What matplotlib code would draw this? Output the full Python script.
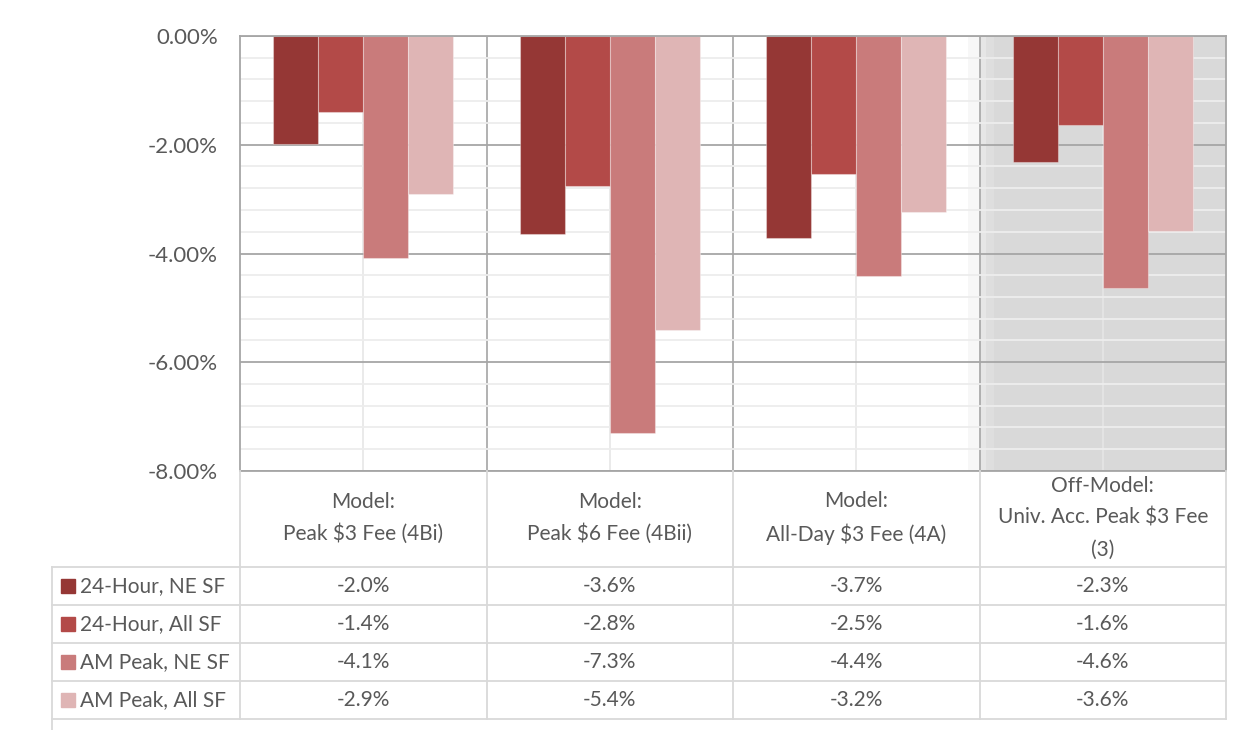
import numpy as np
import matplotlib
matplotlib.use("Agg")
import matplotlib.pyplot as plt
from matplotlib.patches import Rectangle
from matplotlib.ticker import FuncFormatter

plt.rcParams['font.family'] = ['Lato', 'DejaVu Sans']
plt.rcParams['axes.unicode_minus'] = False

# ---- data -------------------------------------------------------------
categories = [
    "Model:\nPeak $3 Fee (4Bi)",
    "Model:\nPeak $6 Fee (4Bii)",
    "Model:\nAll-Day $3 Fee (4A)",
    "Off-Model:\nUniv. Acc. Peak $3 Fee\n(3)",
]
series_names = ["24-Hour, NE SF", "24-Hour, All SF", "AM Peak, NE SF", "AM Peak, All SF"]
h24_ne = [-1.98, -3.64, -3.71, -2.32]
h24_all = [-1.40, -2.76, -2.54, -1.64]
am_ne = [-4.08, -7.30, -4.41, -4.63]
am_all = [-2.90, -5.40, -3.24, -3.58]
series_values = [h24_ne, h24_all, am_ne, am_all]
series_colors = ["#953735", "#B34A48", "#C97B7B", "#DFB5B5"]
y_ticks = [0, -2, -4, -6, -8]

TEXT = "#595959"
FS = 15
W, H = 1246, 730


def rect(x0, y0, x1, y1):
    return [x0 / W, 1 - y1 / H, (x1 - x0) / W, (y1 - y0) / H]


fig = plt.figure(figsize=(W / 100, H / 100), dpi=100)

# ---- chart area -------------------------------------------------------
ax = fig.add_axes(rect(240, 36, 1226, 471))
n_cat = len(categories)

# shaded background behind the off-model group, with a soft left edge
for x0, x1, c in [(2.955, 3.0, '#F7F7F7'), (3.0, 3.028, '#E6E6E6'),
                  (3.028, 3.06, '#DEDEDE'), (3.06, 4.0, '#D9D9D9')]:
    ax.axvspan(x0, x1, color=c, lw=0, zorder=0)
ax.set_xlim(0, n_cat)
ax.set_ylim(-8, 0)

ax.set_yticks(y_ticks)
ax.set_yticks(np.arange(-8, 0.001, 0.4), minor=True)
ax.yaxis.set_major_formatter(FuncFormatter(lambda v, p: f"{v:.2f}%"))
ax.tick_params(axis='y', which='both', length=0, pad=16, labelsize=FS + 1,
               labelcolor=TEXT)
ax.set_xticks([])
ax.grid(axis='y', which='minor', color='#EDEDED', lw=1.3, zorder=0.5)
ax.grid(axis='y', which='major', color='#A6A6A6', lw=1.3, zorder=0.6)
for i in range(n_cat):
    ax.axvline(i + 0.5, color='#E6E6E6', lw=1.2, zorder=0.55)
for i in range(1, n_cat):
    ax.axvline(i, color='#ABABAB', lw=1.3, zorder=0.6)
for s in ax.spines.values():
    s.set_color('#A6A6A6')
    s.set_linewidth(1.3)

bar_w = 180 / 246.5 / 4
x = np.arange(n_cat) + 0.5
for k, (vals, col) in enumerate(zip(series_values, series_colors)):
    ax.bar(x + (k - 1.5) * bar_w, vals, width=bar_w, color=col,
           edgecolor=(1, 1, 1, 0.35), linewidth=0.8, zorder=2)

# ---- data table -------------------------------------------------------
tax = fig.add_axes(rect(240, 471, 1226, 730))
tax.set_xlim(0, n_cat)
tax.set_ylim(730, 471)
tax.axis('off')

px = 246.5  # pixels per category
left = (52 - 240) / px
line_col = '#D9D9D9'
row_edges = [567, 605, 643, 681, 719]

for y in row_edges:
    tax.plot([left, n_cat], [y, y], color=line_col, lw=1.3, clip_on=False)
for i in range(n_cat + 1):
    tax.plot([i, i], [471, 719], color=line_col, lw=1.3, clip_on=False)
tax.plot([left, left], [567, 730], color=line_col, lw=1.3, clip_on=False)

for i, cat in enumerate(categories):
    tax.text(i + 0.5, 518, cat, ha='center', va='center', fontsize=FS,
             color=TEXT, linespacing=1.72, parse_math=False)

for r, (name, vals, col) in enumerate(zip(series_names, series_values, series_colors)):
    yc = (row_edges[r] + row_edges[r + 1]) / 2
    tax.add_patch(Rectangle(((61 - 240) / px, yc - 7), 14 / px, 14,
                            color=col, clip_on=False))
    tax.text((80 - 240) / px, yc, name, ha='left', va='center', fontsize=FS,
             color=TEXT)
    for i, v in enumerate(vals):
        tax.text(i + 0.5, yc, f"{v:.1f}%", ha='center', va='center',
                 fontsize=FS, color=TEXT)

fig.savefig("out.png", dpi=100, facecolor='white')
